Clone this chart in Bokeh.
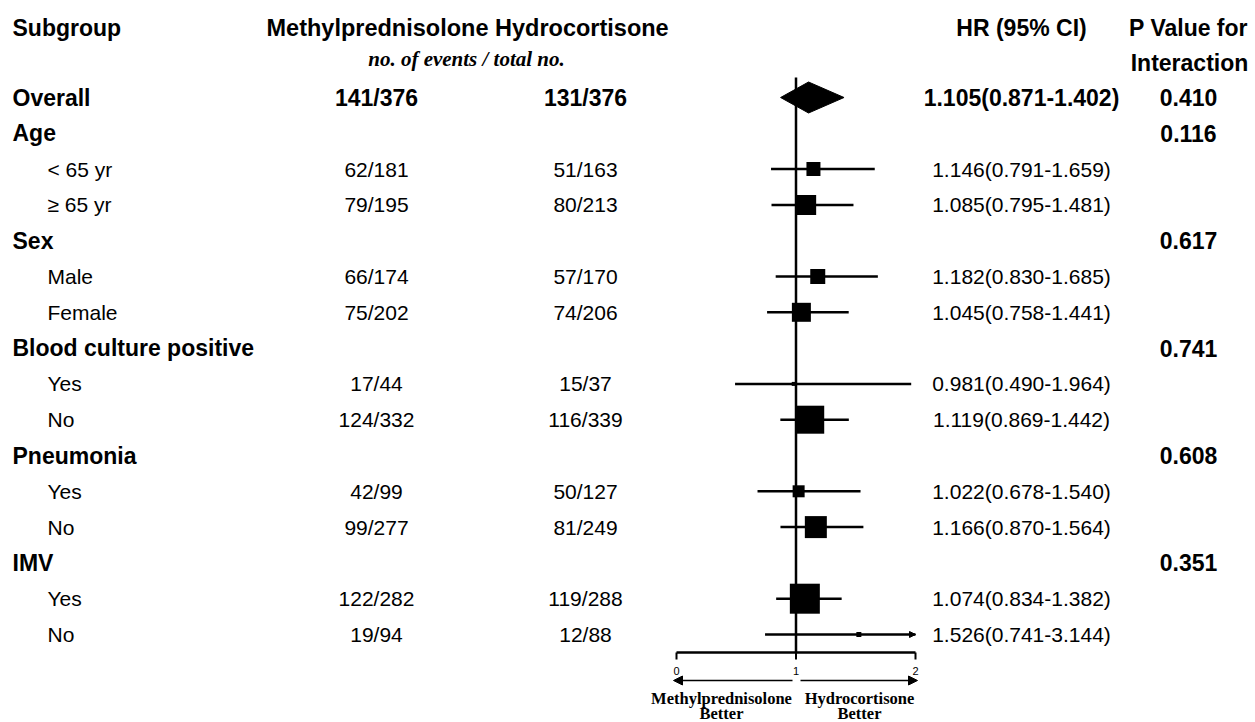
from bokeh.plotting import figure
from bokeh.models import Range1d, Arrow, NormalHead, ColumnDataSource
from bokeh.core.properties import value
from bokeh.embed import file_html
from bokeh.resources import INLINE

# ---------------- data ----------------
labels = ["Overall", "Age", "< 65 yr", "\u2265 65 yr", "Sex", "Male", "Female",
          "Blood culture positive", "Yes", "No", "Pneumonia", "Yes", "No", "IMV", "Yes", "No"]
is_group = [True, True, False, False, True, False, False, True, False, False,
            True, False, False, True, False, False]
methyl = ["141/376", "", "62/181", "79/195", "", "66/174", "75/202", "", "17/44", "124/332",
          "", "42/99", "99/277", "", "122/282", "19/94"]
hydro = ["131/376", "", "51/163", "80/213", "", "57/170", "74/206", "", "15/37", "116/339",
         "", "50/127", "81/249", "", "119/288", "12/88"]
hr = [1.105, None, 1.146, 1.085, None, 1.182, 1.045, None, 0.981, 1.119,
      None, 1.022, 1.166, None, 1.074, 1.526]
lo = [0.871, None, 0.791, 0.795, None, 0.830, 0.758, None, 0.490, 0.869,
      None, 0.678, 0.870, None, 0.834, 0.741]
hi = [1.402, None, 1.659, 1.481, None, 1.685, 1.441, None, 1.964, 1.442,
      None, 1.540, 1.564, None, 1.382, 3.144]
p_int = ["0.410", "0.116", "", "", "0.617", "", "", "0.741", "", "", "0.608", "", "", "0.351", "", ""]
weight_px = [None, None, 14, 20, None, 15, 19, None, 4, 28, None, 12, 22, None, 30, 5]
axis_ticks = [0, 1, 2]
axis_tick_labels = ["0", "1", "2"]
axis_min, axis_max = 0, 2

# ---------------- layout ----------------
W, H = 1255, 722
X0, PPU = 676.0, 119.5          # pixel of HR=0, pixels per HR unit
Y0, ROW = 97.0, 35.8            # pixel of first row, row pitch
AXIS_Y = 652


def px(xpix):
    return (xpix - X0) / PPU


def py(ypix):
    return (ypix - Y0) / ROW


p = figure(width=W, height=H, output_backend="svg", toolbar_location=None,
           x_range=Range1d(px(0), px(W)), y_range=Range1d(py(H), py(0)),
           x_axis_type=None, y_axis_type=None, min_border=0,
           outline_line_color=None)
p.xgrid.visible = False
p.ygrid.visible = False
p.background_fill_color = "white"

SANS = value("Liberation Sans")
SERIF = value("Liberation Serif")
BOLD_SIZE = "23px"
REG_SIZE = "21px"

rows = list(range(len(labels)))


def txt(x, y, s, align="left", style="bold", size=BOLD_SIZE, font=SANS):
    p.text(x=[x], y=[y], text=[s], text_align=align, text_baseline="middle",
           text_font=font, text_font_style=style, text_font_size=size, text_color="black")


# headers
txt(px(12), py(27), "Subgroup")
txt(px(266), py(27), "Methylprednisolone Hydrocortisone", size="23.5px")
txt(px(466), py(58), "no. of events / total no.", align="center", style="bold italic",
    size="21px", font=SERIF)
txt(px(1021), py(27), "HR (95% CI)", align="center")
txt(px(1188), py(27), "P Value for", align="center")
txt(px(1189), py(62), "Interaction", align="center")

COL_M, COL_H, COL_HR, COL_P = px(376), px(585), px(1021), px(1188)

for i in rows:
    g = is_group[i]
    style = "bold" if g else "normal"
    size = BOLD_SIZE if g else REG_SIZE
    txt(px(12) if g else px(47), i, labels[i], style=style, size=size)
    if methyl[i]:
        txt(COL_M, i, methyl[i], align="center", style=style, size=size)
    if hydro[i]:
        txt(COL_H, i, hydro[i], align="center", style=style, size=size)
    if hr[i] is not None:
        txt(COL_HR, i, "%.3f(%.3f-%.3f)" % (hr[i], lo[i], hi[i]), align="center",
            style=style, size=size)
    if p_int[i]:
        txt(COL_P, i, p_int[i], align="center", style="bold", size=BOLD_SIZE)

# reference line at HR = 1
p.segment(x0=[1], x1=[1], y0=[py(77)], y1=[py(AXIS_Y)], line_color="black", line_width=2.5)

# confidence intervals and squares
sub = [i for i in rows if hr[i] is not None and not is_group[i]]
src = ColumnDataSource(dict(
    y=sub,
    hr=[hr[i] for i in sub],
    lo=[lo[i] for i in sub],
    hi=[min(hi[i], axis_max) for i in sub],
    size=[weight_px[i] for i in sub],
))
p.segment(x0="lo", x1="hi", y0="y", y1="y", source=src, line_color="black", line_width=2.5)
p.scatter(x="hr", y="y", size="size", marker="square", source=src,
          fill_color="black", line_color="black", line_width=0)

# CI exceeding the axis -> arrow tip
for i in sub:
    if hi[i] > axis_max:
        p.add_layout(Arrow(x_start=axis_max - 0.05, y_start=i, x_end=axis_max, y_end=i,
                           line_color="black", line_width=2,
                           end=NormalHead(size=6, fill_color="black", line_color="black")))

# overall diamond
dh = 15.5 / ROW
p.patch(x=[lo[0], hr[0], hi[0], hr[0]], y=[0, -dh, 0, dh],
        fill_color="black", line_color="black", line_width=1)

# x axis (drawn on the data scale, bounded to 0..2)
ya = py(AXIS_Y)
p.segment(x0=[axis_min], x1=[axis_max], y0=[ya], y1=[ya], line_color="black", line_width=2.5)
p.segment(x0=axis_ticks, x1=axis_ticks, y0=[ya] * len(axis_ticks),
          y1=[py(AXIS_Y + 7)] * len(axis_ticks), line_color="black", line_width=2)
p.text(x=axis_ticks, y=[py(670)] * len(axis_ticks), text=axis_tick_labels,
       text_align="center", text_baseline="middle", text_font=SANS,
       text_font_size="11px", text_color="black")

# direction arrows and captions
yar = py(680)
p.add_layout(Arrow(x_start=px(792), y_start=yar, x_end=px(673), y_end=yar,
                   line_color="black", line_width=1.5,
                   end=NormalHead(size=9, fill_color="black", line_color="black")))
p.add_layout(Arrow(x_start=px(800), y_start=yar, x_end=px(917), y_end=yar,
                   line_color="black", line_width=1.5,
                   end=NormalHead(size=9, fill_color="black", line_color="black")))
for xc, t in [(px(721), "Methylprednisolone"), (px(859), "Hydrocortisone")]:
    txt(xc, py(697.5), t, align="center", size="16.5px", font=SERIF)
    txt(xc, py(713), "Better", align="center", size="16.5px", font=SERIF)

open("out.html", "w").write(file_html(p, INLINE))
